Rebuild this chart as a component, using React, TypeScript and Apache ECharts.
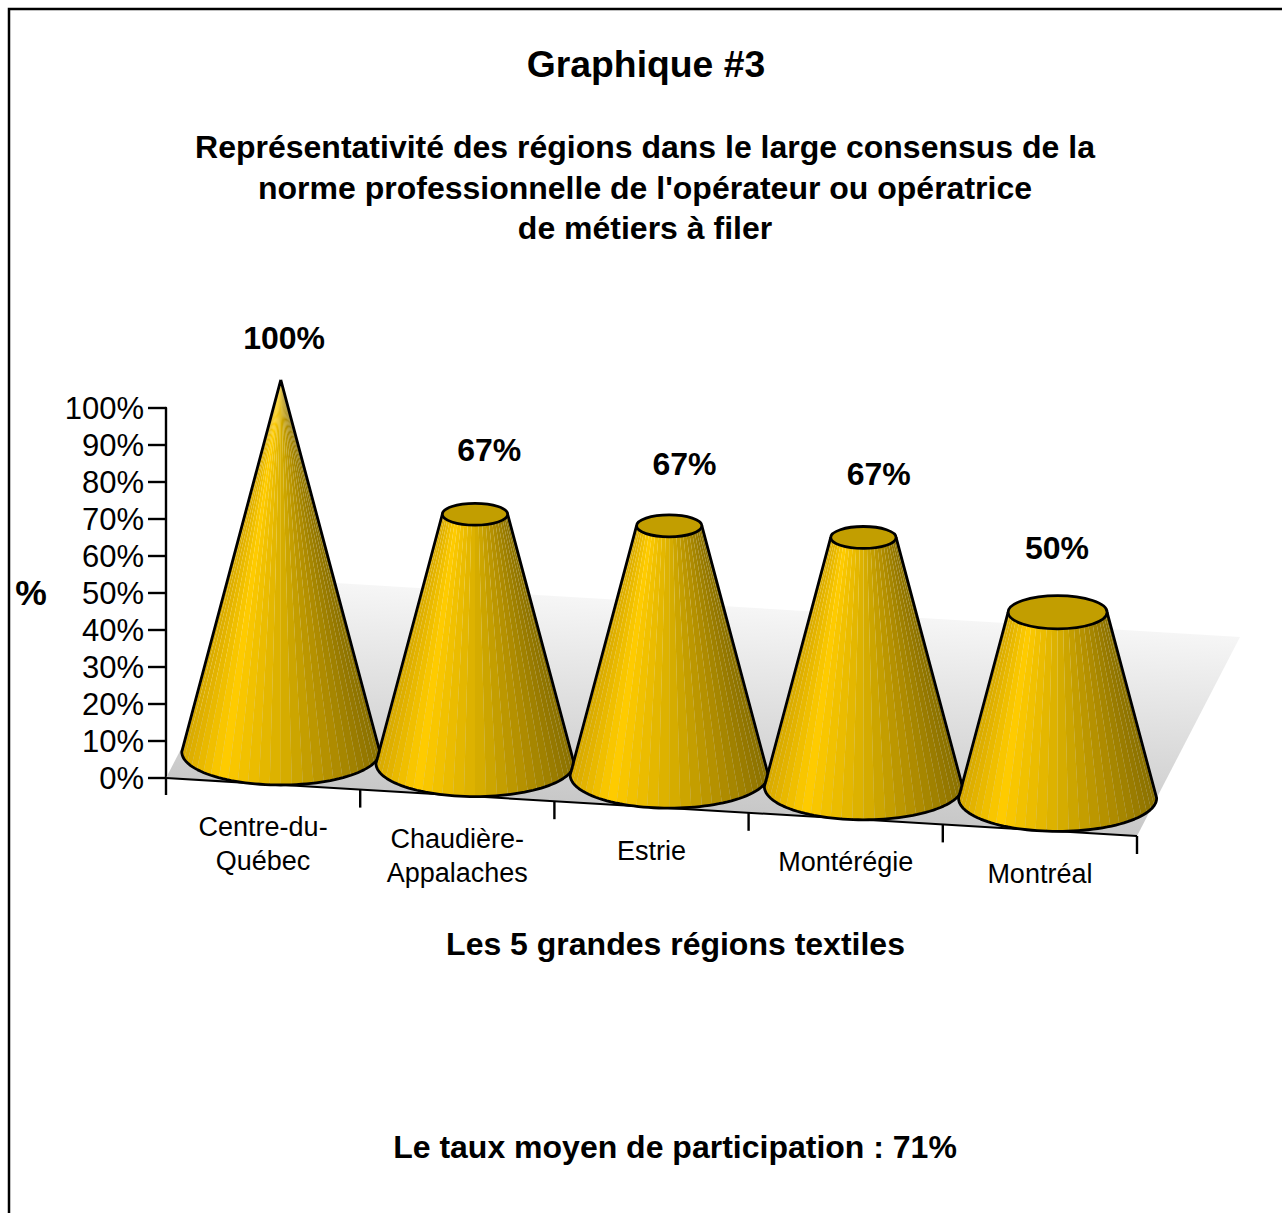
import React, { useEffect, useRef } from "react";
import * as echarts from "echarts";

const categories = ["Centre-du-\nQuébec", "Chaudière-\nAppalaches", "Estrie", "Montérégie", "Montréal"];
const values = [100, 67, 67, 67, 50];
const titleText = "Graphique #3";
const subtitleLines = [
  "Représentativité des régions dans le large consensus de la",
  "norme professionnelle de l'opérateur ou opératrice",
  "de métiers à filer",
];
const xAxisName = "Les 5 grandes régions textiles";
const yAxisName = "%";
const footerText = "Le taux moyen de participation : 71%";

const FONT = '"Liberation Sans", Arial, sans-serif';
const SLOPE = 58 / 971;
const FACETS = 28;
const CONE_SHIFT_X = 17.7;
const BASE_LIFT = 32;
const HEIGHT_SCALE = 1.005;
const RADIUS_RATIO = 0.51;
const ELLIPSE_RATIO = 0.335;
const labelShift = [[3.3, -42], [14.3, -64.5], [15.3, -61.5], [15.3, -63.5], [-0.7, -64.5]];
const shadeStops: [number, number[]][] = [
  [0, [214, 168, 0]],
  [0.2, [255, 204, 0]],
  [0.5, [217, 175, 0]],
  [0.8, [172, 138, 0]],
  [1, [138, 112, 0]],
];

function shade(u: number) {
  for (let i = 1; i < shadeStops.length; i++) {
    const [a, ca] = shadeStops[i - 1];
    const [b, cb] = shadeStops[i];
    if (u <= b) {
      const k = (u - a) / (b - a);
      const c = ca.map((v, n) => Math.round(v + (cb[n] - v) * k));
      return `rgb(${c[0]},${c[1]},${c[2]})`;
    }
  }
  return "rgb(138,112,0)";
}

function renderFloor(params: any, api: any) {
  const i = api.value(0);
  const [cx, y0] = api.coord([i, 0]);
  const band = api.size([1, 0])[0];
  const x0 = cx - band * (i + 0.5);
  const x1 = x0 + band * categories.length;
  const yAt = (x: number) => y0 + (x - x0) * SLOPE;
  const children: any[] = [];
  if (i === 0) {
    children.push({
      type: "polygon",
      shape: {
        points: [
          [x0, y0],
          [x1, yAt(x1)],
          [x1 + 103, yAt(x1) - 199],
          [x0 + 103, y0 - 199],
        ],
      },
      style: {
        fill: new echarts.graphic.LinearGradient(x0 + 103, y0 - 199, x0 + 88, y0 + 58, [
          { offset: 0, color: "#f6f6f6" },
          { offset: 1, color: "#bcbcbc" },
        ], true),
      },
    });
    children.push({
      type: "line",
      shape: { x1: x0, y1: y0, x2: x1, y2: yAt(x1) },
      style: { stroke: "#000", lineWidth: 2 },
    });
    children.push({
      type: "line",
      shape: { x1: x0, y1: y0, x2: x0, y2: y0 + 17 },
      style: { stroke: "#000", lineWidth: 2.4 },
    });
  }
  const tx = x0 + band * (i + 1);
  children.push({
    type: "line",
    shape: { x1: tx, y1: yAt(tx), x2: tx, y2: yAt(tx) + 18 },
    style: { stroke: "#000", lineWidth: 2.4 },
  });
  const lines = categories[i].split("\n");
  lines.forEach((line, n) => {
    children.push({
      type: "text",
      style: {
        text: line,
        x: cx,
        y: yAt(cx) + 43.5 + n * 34,
        align: "center",
        verticalAlign: "middle",
        font: `27px ${FONT}`,
        fill: "#000",
      },
    });
  });
  return { type: "group", children };
}

function renderCone(params: any, api: any) {
  const i = api.value(0);
  const v = api.value(1);
  const [bandX, y0] = api.coord([i, 0]);
  const [, yV] = api.coord([i, v]);
  const band = api.size([1, 0])[0];
  const x0 = bandX - band * (i + 0.5);
  const cx = bandX + CONE_SHIFT_X;
  const baseY = y0 + (bandX - x0) * SLOPE - BASE_LIFT;
  const topY = baseY - (y0 - yV) * HEIGHT_SCALE;
  const R = band * RADIUS_RATIO;
  const r = R * (1 - v / 100);
  const at = (t: number, rad: number, y: number) => [
    cx + rad * Math.cos(t),
    y + rad * ELLIPSE_RATIO * Math.sin(t),
  ];
  const children: any[] = [];
  for (let j = 0; j < FACETS; j++) {
    const t0 = Math.PI - (Math.PI * j) / FACETS;
    const t1 = Math.PI - (Math.PI * (j + 1)) / FACETS;
    const u = (1 + Math.cos((t0 + t1) / 2)) / 2;
    children.push({
      type: "polygon",
      shape: { points: [at(t0, R, baseY), at(t1, R, baseY), at(t1, r, topY), at(t0, r, topY)] },
      style: { fill: shade(u) },
    });
  }
  const outline: number[][] = [at(Math.PI, r, topY)];
  for (let j = 0; j <= 60; j++) outline.push(at(Math.PI - (Math.PI * j) / 60, R, baseY));
  outline.push(at(0, r, topY));
  children.push({
    type: "polyline",
    shape: { points: outline },
    style: { stroke: "#000", lineWidth: 2.8, fill: "none", lineJoin: "round" },
  });
  if (r > 0.5) {
    children.push({
      type: "ellipse",
      shape: { cx, cy: topY, rx: r, ry: r * ELLIPSE_RATIO },
      style: { fill: "#c29e00", stroke: "#000", lineWidth: 2.8 },
    });
  }
  children.push({
    type: "text",
    style: {
      text: `${v}%`,
      x: cx + labelShift[i][0],
      y: topY + labelShift[i][1],
      align: "center",
      verticalAlign: "middle",
      font: `bold 32px ${FONT}`,
      fill: "#000",
    },
  });
  return { type: "group", children };
}

function centeredText(text: string, x: number, y: number, size: number) {
  return {
    type: "text",
    style: {
      text,
      x,
      y,
      align: "center",
      verticalAlign: "middle",
      font: `bold ${size}px ${FONT}`,
      fill: "#000",
    },
  };
}

export default function App() {
  const ref = useRef<HTMLDivElement>(null);
  useEffect(() => {
    document.body.style.margin = "0";
    document.body.style.overflow = "hidden";
    const chart = echarts.init(ref.current!, undefined, { renderer: "svg" });
    chart.setOption({
      animation: false,
      backgroundColor: "#fff",
      grid: { left: 166, top: 408, width: 971, height: 370, containLabel: false },
      xAxis: { type: "category", data: categories, show: false },
      yAxis: {
        type: "value",
        min: 0,
        max: 100,
        interval: 10,
        splitLine: { show: false },
        axisLine: { show: true, lineStyle: { color: "#000", width: 2.4 } },
        axisTick: { show: true, length: 18, lineStyle: { color: "#000", width: 2.4 } },
        axisLabel: {
          formatter: "{value}%",
          color: "#000",
          fontSize: 31,
          fontFamily: FONT,
          margin: 22,
          padding: [0, 0, 4, 0],
        },
      },
      graphic: [
        {
          type: "polyline",
          shape: { points: [[9, 1213], [9, 9], [1282, 9]] },
          style: { stroke: "#000", lineWidth: 2.5, fill: "none" },
        },
        centeredText(titleText, 646, 64, 37.3),
        ...subtitleLines.map((line, n) => centeredText(line, 645, 147.4 + n * 40.5, 32)),
        centeredText(yAxisName, 31, 593, 35.5),
        centeredText(xAxisName, 675.5, 944, 32),
        centeredText(footerText, 675, 1147, 32),
      ],
      series: [
        {
          type: "custom",
          z: 1,
          clip: false,
          silent: true,
          renderItem: renderFloor,
          data: categories.map((_, i) => [i, 0]),
          encode: { x: 0, y: 1 },
        },
        {
          type: "custom",
          z: 2,
          clip: false,
          silent: true,
          renderItem: renderCone,
          data: values.map((v, i) => [i, v]),
          encode: { x: 0, y: 1 },
        },
      ],
    });
    return () => chart.dispose();
  }, []);
  return <div ref={ref} style={{ width: 1282, height: 1213 }} />;
}
